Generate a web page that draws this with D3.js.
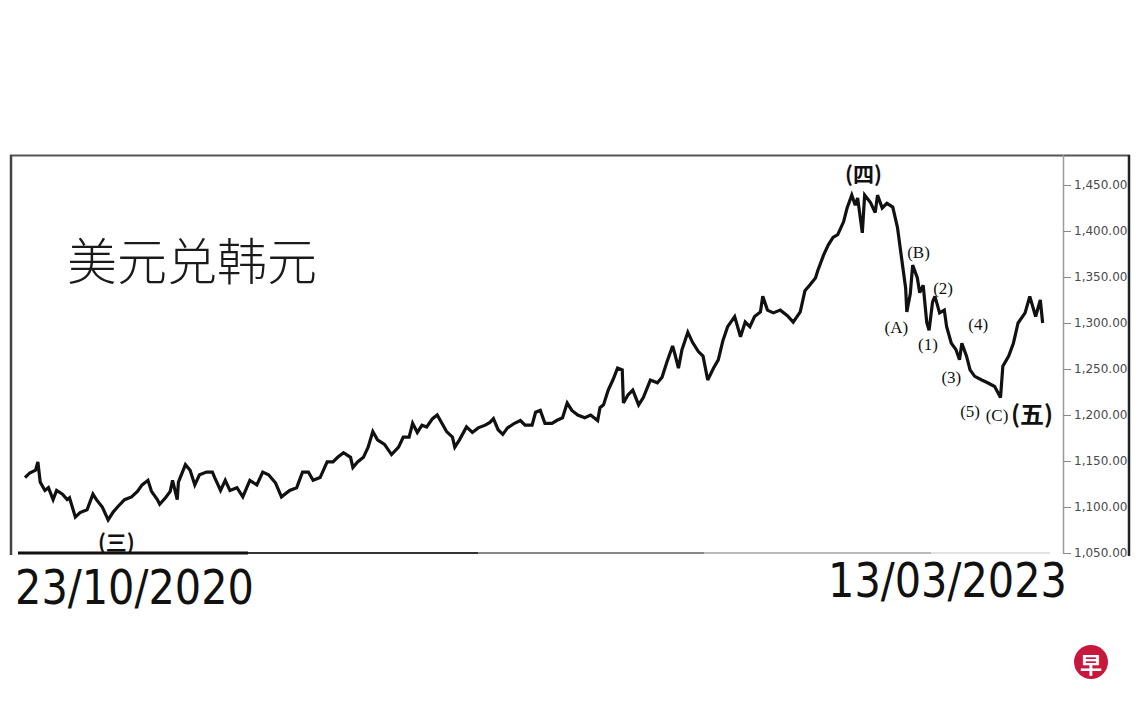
<!DOCTYPE html>
<html>
<head>
<meta charset="utf-8">
<script src="https://cdn.jsdelivr.net/npm/d3@7"></script>
<style>
  html, body { margin: 0; padding: 0; background: #fff; }
  svg { display: block; }
</style>
</head>
<body>
<svg id="chart" width="1140" height="712"></svg>
<script>
// ---------------- DATA ----------------
const startDate = "2020-10-23";
const endDate = "2023-03-13";
const title = "美元兑韩元";
const dateLabels = ["23/10/2020", "13/03/2023"];
const yTicks = [1050, 1100, 1150, 1200, 1250, 1300, 1350, 1400, 1450];

// days since start date
const days = [0,4,9,11,13,17,20,24,27,32,36,38,43,47,53,58,61,66,71,75,79,85,91,96,100,105,108,113,115,120,124,126,130,131,137,141,145,149,155,160,162,167,171,175,181,186,192,198,203,208,214,219,226,232,237,242,246,252,258,263,267,272,278,280,284,289,293,297,301,307,313,319,323,328,331,335,339,343,348,352,356,360,365,367,371,377,382,387,393,397,400,404,408,412,418,423,427,433,436,440,444,450,454,459,463,467,472,478,483,489,491,494,498,502,506,510,511,515,519,524,528,534,540,544,548,553,555,558,561,566,570,575,579,583,588,592,596,600,606,611,615,619,623,628,630,634,639,645,651,656,662,666,670,675,677,682,686,690,694,699,702,706,709,711,715,717,722,726,728,732,736,741,745,749,752,753,756,758,762,764,767,770,772,775,777,781,785,787,791,795,798,800,804,807,811,817,822,828,833,835,840,844,848,854,858,863,867,869];
// USD/KRW
const rates = [1132,1137,1140,1149,1127,1118,1121,1108,1118,1114,1108,1110,1089,1094,1097,1114,1108,1100,1086,1094,1100,1108,1111,1117,1124,1129,1117,1108,1103,1110,1117,1129,1108,1127,1146,1140,1124,1135,1138,1138,1132,1118,1129,1118,1121,1111,1129,1124,1138,1135,1126,1111,1118,1121,1138,1138,1129,1132,1149,1149,1154,1159,1154,1143,1149,1154,1165,1182,1173,1168,1157,1165,1176,1176,1191,1181,1189,1187,1196,1200,1191,1182,1176,1165,1173,1187,1181,1186,1189,1192,1196,1184,1179,1186,1191,1194,1189,1189,1203,1205,1191,1191,1194,1197,1213,1205,1200,1197,1200,1194,1208,1211,1227,1238,1251,1249,1213,1222,1227,1211,1219,1238,1235,1241,1257,1275,1266,1251,1271,1290,1279,1269,1264,1238,1251,1260,1281,1296,1307,1285,1301,1296,1307,1312,1329,1314,1311,1314,1308,1301,1312,1335,1341,1349,1357,1374,1385,1393,1396,1410,1425,1439,1428,1436,1398,1439,1431,1420,1439,1425,1430,1426,1404,1366,1338,1312,1332,1363,1349,1333,1341,1301,1292,1323,1329,1311,1314,1296,1278,1271,1260,1278,1264,1249,1242,1238,1235,1231,1219,1253,1264,1278,1300,1311,1329,1307,1325,1300];

// wave annotations: label and anchor (days, rate)
const waveLabels = ["(四)", "(A)", "(B)", "(1)", "(2)", "(3)", "(4)", "(5)", "(C)", "(五)", "(三)"];
const waveDays =   [716, 744, 763, 771, 784, 791, 814, 807, 830, 860, 78];
const waveRates =  [1463, 1295, 1377, 1277, 1338, 1241, 1298, 1204, 1199, 1203, 1063];
const waveStyle =  ["cjk", "s", "s", "s", "s", "s", "s", "s", "s", "cjk2", "cjk3"];

// ---------------- CHART ----------------
const svg = d3.select("#chart");
const parse = d3.timeParse("%Y-%m-%d");
const t0 = parse(startDate), t1 = parse(endDate);
const data = days.map((d, i) => ({ date: d3.timeDay.offset(t0, d), v: rates[i] }));

const x = d3.scaleTime().domain([t0, t1]).range([25, 1045]);
const y = d3.scaleLinear().domain([1050, 1450]).range([553, 185]);

// frame
const frame = svg.append("g");
frame.append("line").attr("x1", 10).attr("x2", 1130).attr("y1", 155.5).attr("y2", 155.5)
  .attr("stroke", "#555").attr("stroke-width", 2);
frame.append("line").attr("x1", 11).attr("x2", 11).attr("y1", 155).attr("y2", 555)
  .attr("stroke", "#444").attr("stroke-width", 2.5);
frame.append("line").attr("x1", 1129).attr("x2", 1129).attr("y1", 155).attr("y2", 556)
  .attr("stroke", "#222").attr("stroke-width", 2.5);
// fading bottom line
const bottomSegs = [[18, 248, "#111", 3], [248, 478, "#333", 2], [478, 704, "#888", 2], [704, 931, "#bbb", 2], [931, 1050, "#e2e2e2", 2]];
bottomSegs.forEach(s => frame.append("line").attr("x1", s[0]).attr("x2", s[1])
  .attr("y1", 553).attr("y2", 553).attr("stroke", s[2]).attr("stroke-width", s[3]));

// right axis
const axis = d3.axisRight(y).tickValues(yTicks).tickSize(8).tickPadding(3)
  .tickFormat(d3.format(",.2f"));
const ag = svg.append("g").attr("transform", "translate(1063,0)").call(axis);
ag.select(".domain").attr("stroke", "#9a9a9a").attr("stroke-width", 1.5)
  .attr("d", "M0.5,155V553");
ag.selectAll(".tick line").attr("stroke", "#888");
ag.selectAll(".tick text").attr("fill", "#4a4a4a").attr("font-family", "DejaVu Sans, sans-serif")
  .attr("font-size", 12);

// line
const line = d3.line().x(d => x(d.date)).y(d => y(d.v)).curve(d3.curveLinear);
svg.append("path").datum(data).attr("d", line).attr("fill", "none")
  .attr("stroke", "#111").attr("stroke-width", 3.2).attr("stroke-linejoin", "miter")
  .attr("stroke-miterlimit", 3);

// title
svg.append("text").attr("x", 67).attr("y", 280).text(title)
  .attr("font-family", "Noto Sans CJK SC, sans-serif").attr("font-size", 50)
  .attr("font-weight", 300).attr("fill", "#1a1a1a");

// wave labels
const styles = {
  s: { ff: "Liberation Serif, serif", fs: 17, fw: 400 },
  cjk: { ff: "Noto Sans CJK SC, sans-serif", fs: 21, fw: 700 },
  cjk2: { ff: "Noto Sans CJK SC, sans-serif", fs: 24, fw: 700 },
  cjk3: { ff: "Noto Sans CJK SC, sans-serif", fs: 21, fw: 700 }
};
waveLabels.forEach((lab, i) => {
  const st = styles[waveStyle[i]];
  svg.append("text")
    .attr("x", x(d3.timeDay.offset(t0, waveDays[i])))
    .attr("y", y(waveRates[i]))
    .attr("text-anchor", "middle").attr("dominant-baseline", "central")
    .attr("font-family", st.ff).attr("font-size", st.fs).attr("font-weight", st.fw)
    .attr("fill", "#111").text(lab);
});

// date labels
const dl = [[15, 604], [828, 597]];
dateLabels.forEach((t, i) => {
  svg.append("text").attr("x", dl[i][0]).attr("y", dl[i][1]).text(t)
    .attr("font-family", "Liberation Sans Narrow, DejaVu Sans Condensed, Liberation Sans, sans-serif")
    .attr("font-size", 48).attr("fill", "#111")
    .attr("textLength", 239).attr("lengthAdjust", "spacingAndGlyphs");
});

// logo
const logo = svg.append("g").attr("transform", "translate(1091,662)");
logo.append("circle").attr("r", 17).attr("fill", "#c8173d");
logo.append("text").text("早").attr("text-anchor", "middle").attr("dominant-baseline", "central")
  .attr("font-family", "Noto Sans CJK SC, sans-serif").attr("font-weight", 700)
  .attr("font-size", 22).attr("fill", "#fff").attr("y", 1);
</script>
</body>
</html>
